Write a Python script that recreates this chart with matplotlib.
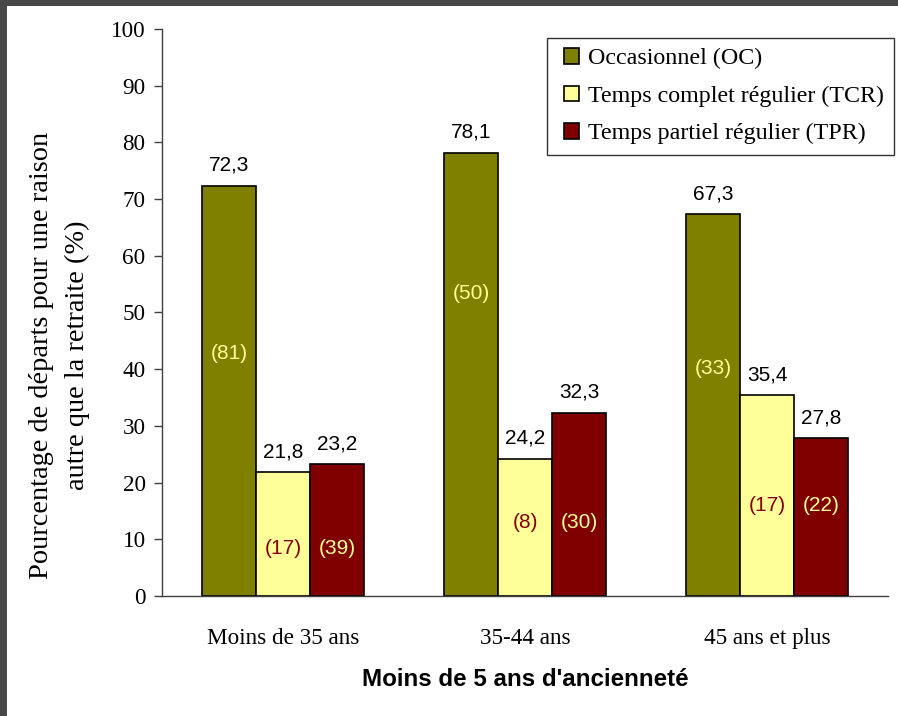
import matplotlib
matplotlib.use("Agg")
import matplotlib.pyplot as plt
import numpy as np
from matplotlib.patches import Rectangle
from matplotlib.legend_handler import HandlerPatch

# données
groupes = ["Moins de 35 ans", "35-44 ans", "45 ans et plus"]
series = ["Occasionnel (OC)", "Temps complet régulier (TCR)", "Temps partiel régulier (TPR)"]
oc = [72.3, 78.1, 67.3]
tcr = [21.8, 24.2, 35.4]
tpr = [23.2, 32.3, 27.8]
# effectifs entre parenthèses
n_oc = [81, 50, 33]
n_tcr = [17, 8, 17]
n_tpr = [39, 30, 22]
# hauteur où sont écrits les effectifs
y_n_oc = [42.7, 53.3, 40.2]
y_n_tcr = [8.3, 13.0, 15.9]
y_n_tpr = [8.3, 13.0, 15.9]

couleurs = ["#808000", "#FFFF99", "#800000"]
couleurs_n = ["#FFFF99", "#800000", "#FFFF99"]

SERIF = "Liberation Serif"
SANS = "Liberation Sans"


def fmt(v):
    return f"{v:.1f}".replace(".", ",")


def carre(legend, orig_handle, xdescent, ydescent, width, height, fontsize):
    # petit carré calé à droite de la zone du symbole
    return Rectangle((width - height - xdescent, -ydescent), height, height)


fig = plt.figure(figsize=(8.98, 7.16), dpi=100)
fig.patch.set_facecolor("#474747")
fig.patches.append(Rectangle((7 / 898, 0), 1, 1 - 6 / 716, transform=fig.transFigure,
                             facecolor="white", edgecolor="none", zorder=-1))

ax = fig.add_axes([162 / 898, 1 - 596 / 716, 726 / 898, 567 / 716])
ax.set_facecolor("white")

x = np.arange(len(groupes))
w = 0.223
valeurs = [oc, tcr, tpr]
effectifs = [n_oc, n_tcr, n_tpr]
hauteurs_n = [y_n_oc, y_n_tcr, y_n_tpr]

for i, (vals, nom) in enumerate(zip(valeurs, series)):
    pos = x + (i - 1) * w
    ax.bar(pos, vals, w, color=couleurs[i], edgecolor="black", linewidth=1.2,
           label=nom, zorder=2)
    for p, v in zip(pos, vals):
        ax.annotate(fmt(v), (p, v), xytext=(0, 11), textcoords="offset points",
                    ha="center", va="baseline", fontsize=15, family=SANS)
    for p, n, yn in zip(pos, effectifs[i], hauteurs_n[i]):
        ax.text(p, yn, f"({n})", ha="center", va="center", fontsize=15,
                family=SANS, color=couleurs_n[i], zorder=3)

ax.set_xlim(-0.5, 2.5)
ax.set_ylim(0, 100)
ax.set_yticks(range(0, 101, 10))
ax.set_xticks(x)
ax.set_xticklabels(groupes, family=SERIF, fontsize=16.7)
for t in ax.get_yticklabels():
    t.set_family(SERIF)
    t.set_fontsize(16.7)
ax.tick_params(axis="y", direction="out", length=5.8, width=1, color="#404040", pad=6)
ax.tick_params(axis="x", length=0, pad=23)

for s in ["top", "right"]:
    ax.spines[s].set_visible(False)
for s in ["left", "bottom"]:
    ax.spines[s].set_color("#404040")
    ax.spines[s].set_linewidth(1)

ax.set_ylabel("Pourcentage de départs pour une raison\nautre que la retraite (%)",
              family=SERIF, fontsize=20.4, linespacing=1.55, va="center")
ax.yaxis.set_label_coords(-0.1412, 0.425)
ax.set_xlabel("Moins de 5 ans d'ancienneté", family=SANS, fontsize=17.4,
              fontweight="bold", va="center")
ax.xaxis.set_label_coords(0.5, -0.148)

handles = [Rectangle((0, 0), 1, 1, facecolor=c, edgecolor="black", linewidth=1.2)
           for c in couleurs]
leg = ax.legend(handles, series, loc="upper right",
                bbox_to_anchor=(1 + 6 / 726, 1 - 9 / 567),
                prop={"family": SERIF, "size": 17.3}, frameon=True, fancybox=False,
                edgecolor="black", handlelength=0.92, handleheight=0.62,
                handletextpad=0.37, borderpad=0.42, labelspacing=0.68,
                borderaxespad=0,
                handler_map={Rectangle: HandlerPatch(patch_func=carre)})
leg.get_frame().set_linewidth(1)

fig.savefig("out.png", dpi=100, facecolor=fig.get_facecolor())
